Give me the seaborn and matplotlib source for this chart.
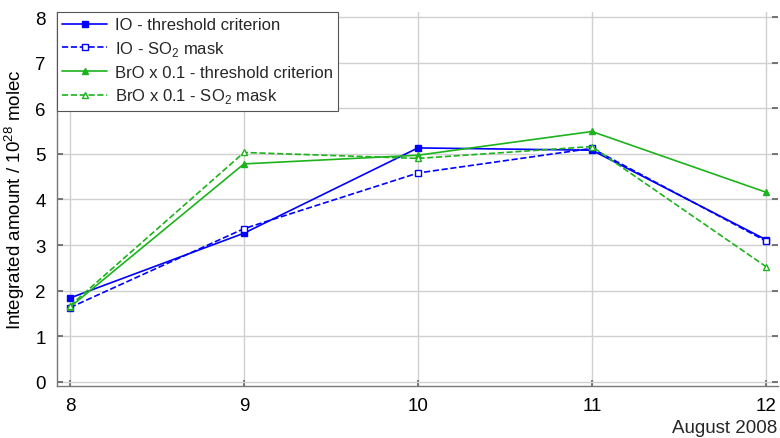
import matplotlib
matplotlib.use("Agg")
import matplotlib.pyplot as plt
import seaborn as sns
import pandas as pd

days = [8, 9, 10, 11, 12]
io_threshold = [1.84, 3.26, 5.13, 5.08, 3.12]
io_so2 = [1.63, 3.36, 4.58, 5.12, 3.09]
bro_threshold = [1.64, 4.78, 4.97, 5.49, 4.16]
bro_so2 = [1.67, 5.03, 4.90, 5.16, 2.53]
labels = ["IO - threshold criterion", "IO - SO$_2$ mask",
          "BrO x 0.1 - threshold criterion", "BrO x 0.1 - SO$_2$ mask"]

sns.set_theme(style="whitegrid")
plt.rcParams['font.family'] = ['Liberation Sans', 'DejaVu Sans']
plt.rcParams['mathtext.fontset'] = 'custom'
plt.rcParams['mathtext.rm'] = 'Liberation Sans'

fig = plt.figure(figsize=(7.8, 4.39), dpi=100)
# axes: left spine x=57, right x=778, bottom y=387, top y=13
ax = fig.add_axes([57/780, 1-387/439, (778-57)/780, (387-13)/439])

blue = "#0000ff"
green = "#1db31d"
series = [
    (io_threshold, labels[0], blue, "-", "s", blue, 4),
    (io_so2, labels[1], blue, "--", "s", "white", 5),
    (bro_threshold, labels[2], green, "-", "^", green, 4),
    (bro_so2, labels[3], green, "--", "^", "white", 5),
]
for vals, lab, col, ls, mk, mfc, ms in series:
    df = pd.DataFrame({"day": days, "val": vals})
    sns.lineplot(data=df, x="day", y="val", ax=ax, color=col, linestyle=ls,
                 marker=mk, markerfacecolor=mfc, markeredgecolor=col,
                 markersize=ms, markeredgewidth=1, linewidth=1.2, label=lab)

ax.set_xlim(7.925, 12.07)
ax.set_ylim(-0.09, 8.11)
ax.set_xticks(days)
ax.set_yticks(range(0, 9))
ax.set_xlabel("")
ax.set_ylabel("Integrated amount / 10$^{28}$ molec", fontsize=13.5, color="black",
              labelpad=6)
ax.tick_params(axis='both', labelsize=13.5, colors="black", direction="in",
               length=4, color="#666666")
ax.tick_params(axis='y', right=True, left=True, pad=8)
ax.tick_params(axis='x', bottom=True, pad=8)
ax.grid(True, color="#d0d0d0", linewidth=1)
for s in ["top", "right"]:
    ax.spines[s].set_visible(False)
for s in ["left", "bottom"]:
    ax.spines[s].set_color("#777777")
    ax.spines[s].set_linewidth(1)

leg = ax.legend(loc="upper left", bbox_to_anchor=(0.0, 1.0), fontsize=12,
                frameon=True, fancybox=False, borderaxespad=0,
                handlelength=2.7, handletextpad=0.45, labelspacing=0.4,
                borderpad=0.32)
leg.get_frame().set_edgecolor("#555555")
leg.get_frame().set_linewidth(0.8)
leg.get_frame().set_alpha(1)

fig.text(0.997, 0.005, "August 2008", ha="right", va="bottom", fontsize=13.5)

fig.savefig("out.png", dpi=100)
